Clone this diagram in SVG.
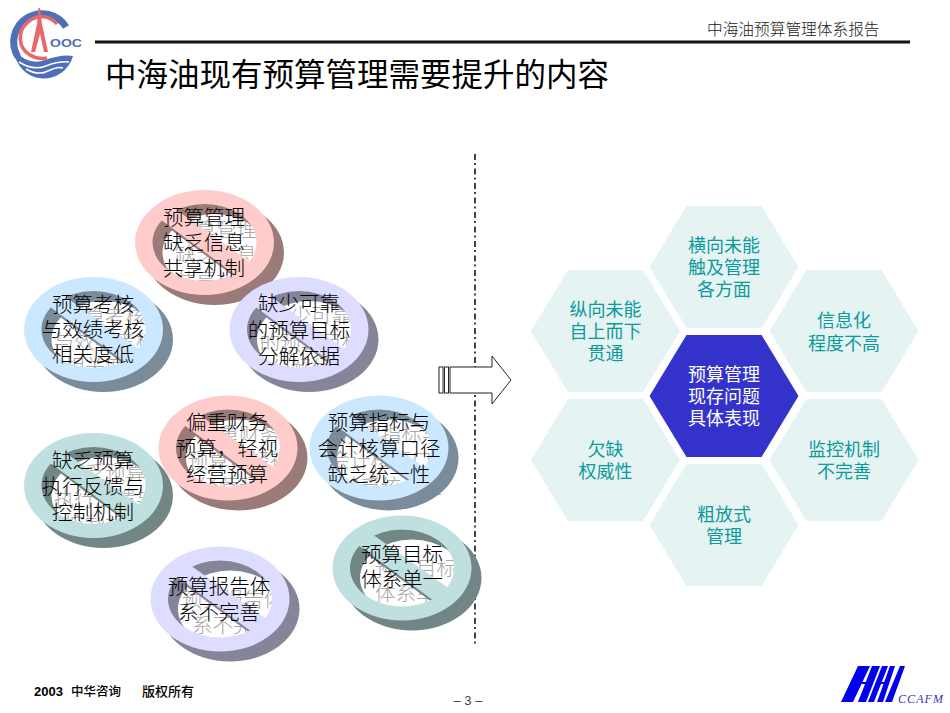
<svg xmlns="http://www.w3.org/2000/svg" width="950" height="713" viewBox="0 0 950 713">
<style>
text{font-family:"Noto Sans CJK SC","Liberation Sans",sans-serif}
.t{font-size:20.5px;font-weight:300;fill:#000;text-anchor:middle}
.g{font-size:20.5px;font-weight:300;fill:#a8a8a8;text-anchor:middle}
.h{font-size:18px;fill:#0c9a9a;text-anchor:middle}
.hw{font-size:18px;fill:#fff;text-anchor:middle}
.hex{fill:#e6f3f3}
.r1{fill:#ffcccc}.s1{fill:#9b7a7a}
.r2{fill:#cce8ff}.s2{fill:#7a8b99}
.r3{fill:#ddddff}.s3{fill:#85859a}
.r4{fill:#c0e0e0}.s4{fill:#738686}
.b{fill:#0000ee}
.f{font-size:13px;font-weight:500;fill:#000}
</style>
<defs>
<g id="no">
<path fill-rule="evenodd" d="M-69.500 0A69.500 52.500 0 1 0 69.500 0A69.500 52.500 0 1 0 -69.500 0ZM-52 0A52 38.500 0 1 0 52 0A52 38.500 0 1 0 -52 0Z"/>
<polygon points="-35,-37.500 52,24 36,36 -50,-27.500"/>
</g>
<polygon id="hx" points="-74.500,0 -37.500,-61 37.500,-61 74.500,0 37.500,61 -37.500,61"/>
</defs>
<rect width="950" height="713" fill="#fff"/>

<g id="logo">
<path d="M67 28A30 30 0 0 0 13 47" fill="none" stroke="#4f6fb8" stroke-width="0"/>
<path d="M66 27A27 27 0 1 0 18 57" fill="none" stroke="#4f6fb8" stroke-width="7"/>
<path d="M14 50Q28 66 45 60T73 56A30 30 0 0 1 14 50Z" fill="#4f6fb8"/>
<path d="M19 62Q33 71 46 66T69 62" fill="none" stroke="#fff" stroke-width="1.500"/>
<path d="M26 69Q38 76 48 71T63 68" fill="none" stroke="#fff" stroke-width="1.500"/>
<path d="M57 24A20 20 0 0 0 28 22A20 20 0 0 0 30 55Q38 60 47 58" fill="none" stroke="#e8686a" stroke-width="3.500"/>
<path d="M38.500 8L40 8L42 24L48 52L44 52L40 34L35 52L31 52L37 24Z" fill="#e8686a"/>
<text x="50" y="46.500" font-size="11" font-weight="700" fill="#4f6fb8" textLength="32" lengthAdjust="spacingAndGlyphs" style="font-family:'Liberation Sans',sans-serif">OOC</text>
</g>
<g id="header">
<rect x="95" y="40.500" width="815" height="3" fill="#111"/>
<text x="707" y="34.500" font-size="15.700" font-weight="300" fill="#222">中海油预算管理体系报告</text>
</g>
<text id="title" x="105" y="85.500" font-size="31.500" fill="#000">中海油现有预算管理需要提升的内容</text>

<g id="connectors">
<path d="M475 154V645" fill="none" stroke="#444" stroke-width="2" stroke-dasharray="6 3 2 3.500"/>
<path id="arrow" d="M450 367H492V356L511 380L492 404V393H450Z" fill="#fff" stroke="#222" stroke-width="1"/>
<rect x="439" y="367" width="4" height="26" fill="#fff" stroke="#222" stroke-width="1"/>
<rect x="444.500" y="367" width="4" height="26" fill="#fff" stroke="#222" stroke-width="1"/>
</g>

<g id="n1">
<text class="g" x="216" y="237">预算管理</text><text class="g" x="216" y="262">缺乏信息</text><text class="g" x="216" y="288">共享机制</text>
<use href="#no" x="214.500" y="252.500" class="s1"/><use href="#no" x="204.500" y="242.500" class="r1"/>
<text class="t" x="204" y="225">预算管理</text><text class="t" x="204" y="250">缺乏信息</text><text class="t" x="204" y="276">共享机制</text>
</g>
<g id="n2">
<text class="g" x="105" y="324">预算考核</text><text class="g" x="105" y="349">与效绩考核</text><text class="g" x="105" y="374">相关度低</text>
<use href="#no" x="103.500" y="339.500" class="s2"/><use href="#no" x="93.500" y="329.500" class="r2"/>
<text class="t" x="93" y="312">预算考核</text><text class="t" x="93" y="337">与效绩考核</text><text class="t" x="93" y="362">相关度低</text>
</g>
<g id="n3">
<text class="g" x="311" y="323">缺少可靠</text><text class="g" x="311" y="350">的预算目标</text><text class="g" x="311" y="376">分解依据</text>
<use href="#no" x="309" y="339.500" class="s3"/><use href="#no" x="299" y="329.500" class="r3"/>
<text class="t" x="299" y="311">缺少可靠</text><text class="t" x="299" y="338">的预算目标</text><text class="t" x="299" y="364">分解依据</text>
</g>
<g id="n4">
<text class="g" x="239" y="442">偏重财务</text><text class="g" x="239" y="468">预算，轻视</text><text class="g" x="239" y="494">经营预算</text>
<use href="#no" x="238" y="458" class="s1"/><use href="#no" x="228" y="448" class="r1"/>
<text class="t" x="227" y="430">偏重财务</text><text class="t" x="227" y="456">预算，轻视</text><text class="t" x="227" y="482">经营预算</text>
</g>
<g id="n5">
<text class="g" x="391" y="442">预算指标与</text><text class="g" x="391" y="468">会计核算口径</text><text class="g" x="391" y="494">缺乏统一性</text>
<use href="#no" x="389" y="458" class="s2"/><use href="#no" x="379" y="448" class="r2"/>
<text class="t" x="379" y="430">预算指标与</text><text class="t" x="379" y="456">会计核算口径</text><text class="t" x="379" y="482">缺乏统一性</text>
</g>
<g id="n6">
<text class="g" x="105" y="480">缺乏预算</text><text class="g" x="105" y="506">执行反馈与</text><text class="g" x="105" y="532">控制机制</text>
<use href="#no" x="103.500" y="495.500" class="s4"/><use href="#no" x="93.500" y="485.500" class="r4"/>
<text class="t" x="93" y="468">缺乏预算</text><text class="t" x="93" y="494">执行反馈与</text><text class="t" x="93" y="520">控制机制</text>
</g>
<g id="n7">
<text class="g" x="233" y="607">预算报告体</text><text class="g" x="233" y="633">系不完善</text>
<use href="#no" x="230" y="609" class="s3"/><use href="#no" x="220" y="599" class="r3"/>
<text class="t" x="219" y="594">预算报告体</text><text class="t" x="219" y="620">系不完善</text>
</g>
<g id="n8">
<text class="g" x="416" y="576">预算目标</text><text class="g" x="416" y="601">体系单一</text>
<use href="#no" x="412" y="578" class="s4"/><use href="#no" x="402" y="568" class="r4"/>
<text class="t" x="402" y="562">预算目标</text><text class="t" x="402" y="587">体系单一</text>
</g>

<g id="h1"><use href="#hx" x="724" y="267" class="hex"/><text class="h" x="724" y="252">横向未能</text><text class="h" x="724" y="274">触及管理</text><text class="h" x="724" y="296">各方面</text></g>
<g id="h2"><use href="#hx" x="605.500" y="331" class="hex"/><text class="h" x="605.500" y="316">纵向未能</text><text class="h" x="605.500" y="338">自上而下</text><text class="h" x="605.500" y="360">贯通</text></g>
<g id="h3"><use href="#hx" x="844" y="331" class="hex"/><text class="h" x="844" y="327">信息化</text><text class="h" x="844" y="350">程度不高</text></g>
<g id="h4"><use href="#hx" x="724" y="396" fill="#3333cc"/><text class="hw" x="724" y="381">预算管理</text><text class="hw" x="724" y="403">现存问题</text><text class="hw" x="724" y="425">具体表现</text></g>
<g id="h5"><use href="#hx" x="605.500" y="460" class="hex"/><text class="h" x="605.500" y="456">欠缺</text><text class="h" x="605.500" y="478">权威性</text></g>
<g id="h6"><use href="#hx" x="844" y="460" class="hex"/><text class="h" x="844" y="456">监控机制</text><text class="h" x="844" y="478">不完善</text></g>
<g id="h7"><use href="#hx" x="724" y="525" class="hex"/><text class="h" x="724" y="521">粗放式</text><text class="h" x="724" y="543">管理</text></g>

<g id="footer">
<text class="f" x="34" y="696" font-weight="700" style="font-family:'Liberation Sans',sans-serif;font-weight:700">2003</text>
<text class="f" x="71" y="696" style="font-size:12.500px">中华咨询</text>
<text class="f" x="142" y="696">版权所有</text>
<text x="468" y="704.500" font-size="13" fill="#444" text-anchor="middle" style="font-family:'Liberation Sans',sans-serif">– 3 –</text>
</g>
<g id="ccafm">
<polygon class="b" points="841,702 858,666 870,666 853,702"/>
<polygon class="b" points="858,702 872,666 880,666 866,702"/>
<polygon class="b" points="868,702 882,666 888,666 874,702"/>
<polygon class="b" points="877,702 890,666 895,666 883,702"/>
<polygon class="b" points="885,702 900,666 905,666 892,702"/>
<rect class="b" x="860" y="682" width="12" height="2"/>
<rect class="b" x="878" y="682" width="8" height="2"/>
<text x="898" y="703" font-size="12" font-style="italic" fill="#3333bb" textLength="45" style="font-family:'Liberation Serif',serif">CCAFM</text>
</g>
</svg>
